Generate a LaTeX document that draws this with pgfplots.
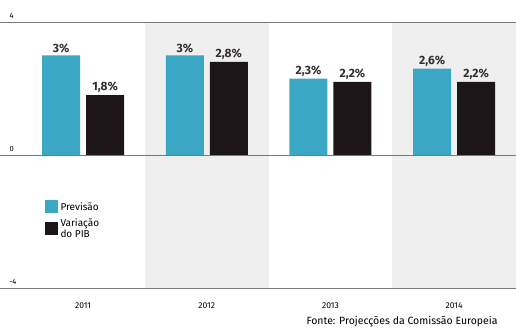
\documentclass[border=0pt]{standalone}
\usepackage{pgfplots}
\pgfplotsset{compat=1.18}
\usepackage{fontspec}
\setmainfont{Fira Sans}
\definecolor{prev}{RGB}{58,168,196}
\definecolor{pib}{RGB}{28,22,24}
\definecolor{bgshade}{RGB}{239,239,239}
\definecolor{lin}{RGB}{120,120,120}
\begin{document}
\begin{tikzpicture}[x=1pt,y=1pt]
\useasboundingbox (0,-39) rectangle (516,288);
\begin{axis}[
  at={(0,0)}, anchor=south west,
  scale only axis, width=516pt, height=266pt,
  xmin=-0.672, xmax=3.5, ymin=-4, ymax=4,
  axis line style={draw=none}, tick style={draw=none},
  axis on top,
  ymajorgrids, grid style={lin, line width=0.8pt},
  ytick={-4,0,4}, xtick={0,1,2,3}, xticklabels={2011,2012,2013,2014},
  /pgf/number format/assume math mode=true,
  yticklabel style={anchor=south west, xshift=6pt, yshift=0pt, font=\fontsize{7.5}{8}\selectfont},
  xticklabel style={font=\fontsize{8.5}{9}\selectfont, yshift=-7pt},
  ybar=6pt, bar width=38pt,
  legend style={at={(axis cs:-0.33,-1.3)}, anchor=north west, draw=none, fill=none,
    font=\fontsize{10}{11}\selectfont, cells={anchor=west, align=left}, row sep=3pt},
  legend image code/.code={\fill[#1] (0pt,-6pt) rectangle (13pt,7pt);},
  nodes near coords={\pgfplotspointmeta\%}, point meta=explicit symbolic,
  every node near coord/.append style={font=\bfseries\fontsize{12}{13}\selectfont, inner sep=2pt, text=pib!90},
]
\fill[bgshade] (axis cs:0.5,-4) rectangle (axis cs:1.5,4);
\fill[bgshade] (axis cs:2.5,-4) rectangle (axis cs:3.5,4);
\addplot[fill=prev, draw=none] table[meta=label] {
x y label
0 3 3
1 3 3
2 2.3 2,3
3 2.6 2,6
};
\addlegendentry{Previsão}
\addplot[fill=pib, draw=none] table[meta=label] {
x y label
0 1.8 1,8
1 2.8 2,8
2 2.2 2,2
3 2.2 2,2
};
\addlegendentry{Variação\\do PIB}
\end{axis}
\node[anchor=base west, font=\fontsize{10.5}{12}\selectfont] at (303,-36) {Fonte: Projecções da Comissão Europeia};
\end{tikzpicture}
\end{document}
